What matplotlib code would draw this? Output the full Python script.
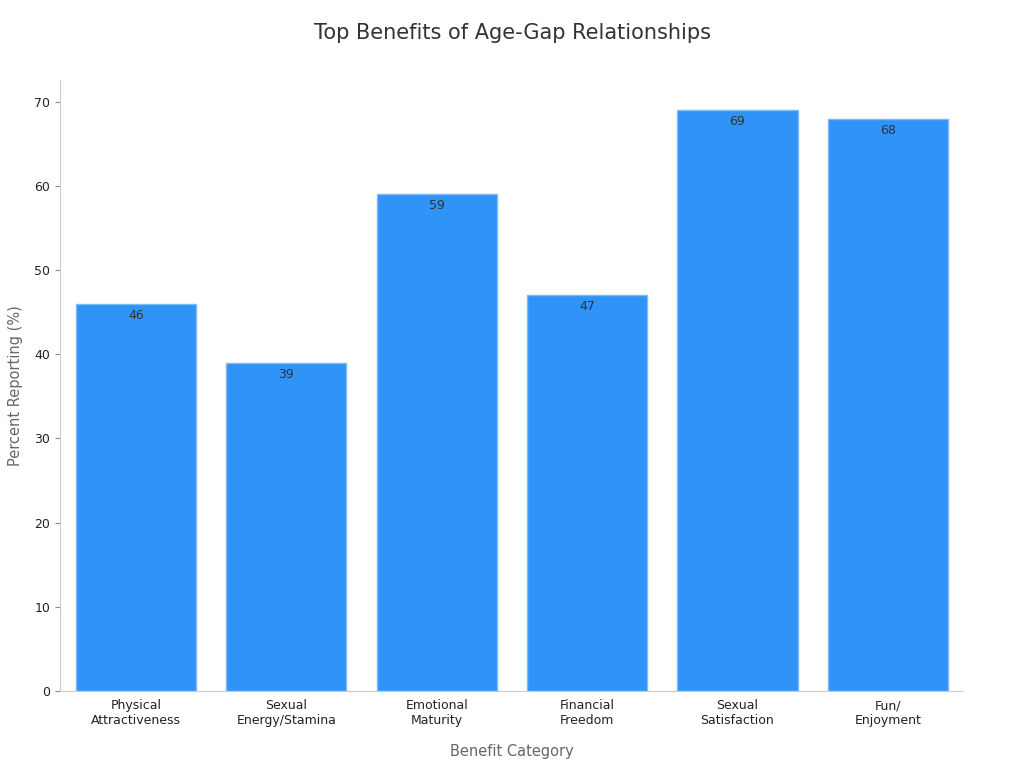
import matplotlib.pyplot as plt

categories = ['Physical\nAttractiveness', 'Sexual\nEnergy/Stamina', 'Emotional\nMaturity',
              'Financial\nFreedom', 'Sexual\nSatisfaction', 'Fun/\nEnjoyment']
values = [46, 39, 59, 47, 69, 68]

fig = plt.figure(figsize=(10.24, 7.68), dpi=100)
ax = fig.add_axes([0.0586, 0.1003, 0.8818, 0.7957])

x = range(len(categories))
bars = ax.bar(x, values, width=0.8, color='#2f93f7', edgecolor='#7fbaf7', linewidth=1)
for xi, v in zip(x, values):
    ax.text(xi, v - 0.6, str(v), ha='center', va='top', fontsize=9, color='#333333')

ax.set_xlim(-0.505, 5.5)
ax.set_ylim(0, 72.6)
ax.set_xticks(list(x))
ax.set_xticklabels(categories, fontsize=9, color='#222222')
ax.set_yticks(range(0, 71, 10))
ax.tick_params(axis='y', labelsize=9, colors='#222222')
ax.tick_params(axis='x', length=0, pad=6)
for s in ['top', 'right']:
    ax.spines[s].set_visible(False)
for s in ['left', 'bottom']:
    ax.spines[s].set_color('#cccccc')
ax.tick_params(axis='y', color='#888888')

ax.set_xlabel('Benefit Category', fontsize=10.5, color='#666666', labelpad=12)
ax.set_ylabel('Percent Reporting (%)', fontsize=10.5, color='#666666', labelpad=8)
fig.suptitle('Top Benefits of Age-Gap Relationships', fontsize=15, color='#333333', y=0.97)

fig.savefig('out.png', dpi=100)
